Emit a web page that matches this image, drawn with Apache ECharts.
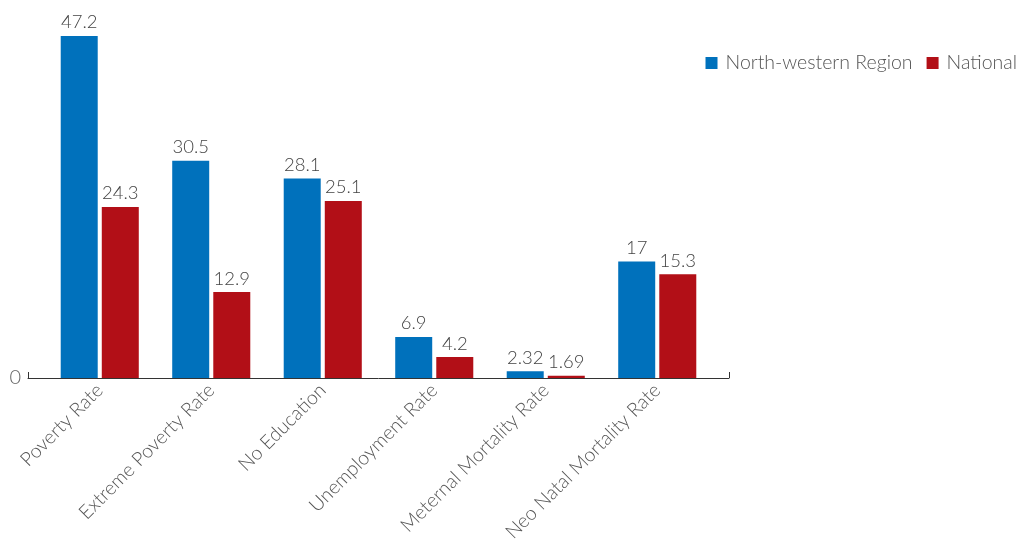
<!DOCTYPE html>
<html>
<head>
<meta charset="utf-8">
<script src="https://cdn.jsdelivr.net/npm/echarts@6/dist/echarts.min.js"></script>
<style>
html,body{margin:0;padding:0;background:#fff;}
#chart{width:1022px;height:546px;}
</style>
</head>
<body>
<div id="chart"></div>
<script>
const categories = ['Poverty Rate','Extreme Poverty Rate','No Education','Unemployment Rate','Meternal Mortality Rate','Neo Natal Mortality Rate'];
const northWestern = [47.2, 30.5, 28.1, 6.9, 2.32, 17];
const national = [24.3, 12.9, 25.1, 4.2, 1.69, 15.3];
const seriesNames = ['North-western Region', 'National'];
const colors = ['#0071bc', '#b20f17'];

const FONT = 'Lato';
const chart = echarts.init(document.getElementById('chart'));
const labelCfg = {
  show: true, position: 'top', distance: 4,
  color: '#444', fontSize: 18.5, fontFamily: FONT, fontWeight: 300
};
chart.setOption({
  animation: false,
  textStyle: { fontFamily: FONT },
  legend: {
    right: 0, top: 48, itemWidth: 12, itemHeight: 12, itemGap: 14,
    icon: 'rect',
    textStyle: { fontSize: 19.5, color: '#555', fontFamily: FONT, fontWeight: 300, padding: [0, 0, 0, 3] },
    data: seriesNames
  },
  grid: [
    { left: 44, right: 309, top: 15, bottom: 168 },
    { left: 28, right: 293, top: 15, bottom: 168 }
  ],
  xAxis: [
    {
      type: 'category', gridIndex: 0, data: categories,
      axisLine: { show: false }, axisTick: { show: false },
      axisLabel: { rotate: 45, margin: 9, fontSize: 19.5, color: '#555', fontFamily: FONT, fontWeight: 300, interval: 0 }
    },
    {
      type: 'value', gridIndex: 1, min: 0, max: 1, interval: 1,
      axisLine: { show: true, lineStyle: { color: '#333', width: 1 } },
      axisTick: { show: true, inside: true, length: 6, lineStyle: { color: '#333' } },
      axisLabel: { show: false }, splitLine: { show: false }
    }
  ],
  yAxis: [
    {
      type: 'value', gridIndex: 0, min: 1.4, max: 50,
      axisLine: { show: false }, axisTick: { show: false },
      axisLabel: { show: false }, splitLine: { show: false }
    },
    {
      type: 'value', gridIndex: 1, min: 0, max: 1, interval: 1,
      axisLine: { show: false }, axisTick: { show: false }, splitLine: { show: false },
      axisLabel: {
        show: true, margin: 7, fontSize: 20, color: '#666', fontFamily: FONT, fontWeight: 300,
        padding: [0, 0, 10, 0],
        formatter: v => (v === 0 ? '0' : '')
      }
    }
  ],
  series: [
    {
      name: seriesNames[0], type: 'bar', xAxisIndex: 0, yAxisIndex: 0,
      data: northWestern, barWidth: 37, barGap: '11%',
      itemStyle: { color: colors[0] }, label: labelCfg
    },
    {
      name: seriesNames[1], type: 'bar', xAxisIndex: 0, yAxisIndex: 0,
      data: national, barWidth: 37, barGap: '11%',
      itemStyle: { color: colors[1] }, label: labelCfg
    }
  ]
});
</script>
</body>
</html>
